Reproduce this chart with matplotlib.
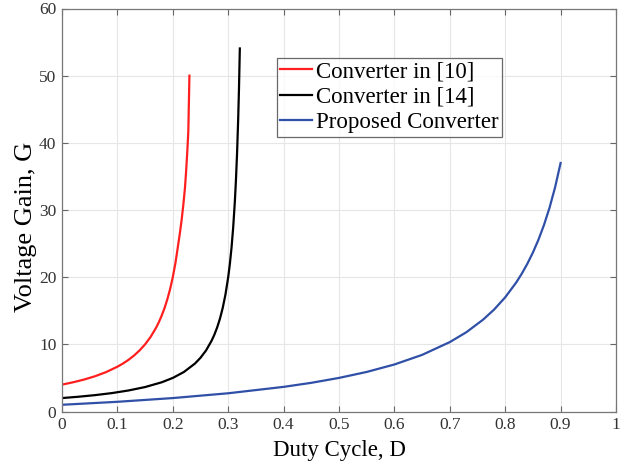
import matplotlib
matplotlib.use("Agg")
import matplotlib.pyplot as plt

# Data
d_ref10 = [0, 0.02, 0.04, 0.06, 0.08, 0.10, 0.11, 0.12, 0.13, 0.14, 0.15, 0.16, 0.17,
           0.175, 0.18, 0.185, 0.19, 0.195, 0.20, 0.205, 0.21, 0.213, 0.216, 0.219,
           0.222, 0.224, 0.226, 0.228, 0.23]
g_ref10 = [4.0, 4.35, 4.76, 5.26, 5.88, 6.67, 7.14, 7.69, 8.33, 9.09, 10.0, 11.11, 12.5,
           13.33, 14.29, 15.38, 16.67, 18.18, 20.0, 22.22, 25.0, 26.67, 28.57, 30.77,
           33.33, 35.71, 38.46, 41.67, 50.0]

d_ref14 = [0, 0.03, 0.06, 0.09, 0.12, 0.15, 0.18, 0.20, 0.22, 0.24, 0.25, 0.26, 0.27,
           0.275, 0.28, 0.285, 0.29, 0.295, 0.30, 0.303, 0.306, 0.309, 0.312, 0.314,
           0.316, 0.318, 0.3195, 0.321]
g_ref14 = [2.0, 2.20, 2.44, 2.74, 3.13, 3.64, 4.35, 5.0, 5.88, 7.14, 8.0, 9.09, 10.53,
           11.43, 12.5, 13.79, 15.38, 17.39, 20.0, 21.98, 24.39, 27.40, 31.25, 34.48,
           38.46, 43.48, 48.19, 54.05]

d_prop = [0, 0.1, 0.2, 0.3, 0.4, 0.45, 0.5, 0.55, 0.6, 0.65, 0.7, 0.73, 0.76, 0.78,
          0.8, 0.82, 0.83, 0.84, 0.85, 0.86, 0.87, 0.88, 0.89, 0.9]
g_prop = [1.0, 1.444, 2.0, 2.714, 3.667, 4.27, 5.0, 5.889, 7.0, 8.429, 10.333, 11.81,
          13.67, 15.18, 17.0, 19.22, 20.53, 22.0, 23.67, 25.57, 27.77, 30.33, 33.36, 37.0]

labels = ["Converter in [10]", "Converter in [14]", "Proposed Converter"]
x_ticks = [0, 0.1, 0.2, 0.3, 0.4, 0.5, 0.6, 0.7, 0.8, 0.9, 1]
x_ticklabels = ["0", "0.1", "0.2", "0.3", "0.4", "0.5", "0.6", "0.7", "0.8", "0.9", "1"]
y_ticks = [0, 10, 20, 30, 40, 50, 60]

plt.rcParams['font.family'] = ['Liberation Serif', 'DejaVu Serif']

fig = plt.figure(figsize=(6.31, 4.66), dpi=100)
ax = fig.add_axes([62/631, 1 - 411.5/466, 554/631, 403/466])

ax.plot(d_ref10, g_ref10, color='#ff1f1f', lw=1.6, label=labels[0])
ax.plot(d_ref14, g_ref14, color='black', lw=1.6, label=labels[1])
ax.plot(d_prop, g_prop, color='#3050a8', lw=1.6, label=labels[2])

ax.set_xlim(0, 1)
ax.set_ylim(0, 60)
ax.set_xticks(x_ticks)
ax.set_xticklabels(x_ticklabels)
ax.set_yticks(y_ticks)
ax.grid(True, color='#e6e6e6', lw=0.8)
ax.set_axisbelow(True)
ax.tick_params(direction='in', top=True, right=True, labelsize=12.5,
               color='#666666', length=4, width=0.8, labelcolor='#333333', pad=4)
for s in ax.spines.values():
    s.set_color('#777777')
    s.set_linewidth(0.9)

ax.set_xlabel("Duty Cycle, D", fontsize=16.5, labelpad=5)
ax.set_ylabel("Voltage Gain, G", fontsize=19)
ax.yaxis.set_label_coords(-0.045, 0.457)

leg = ax.legend(loc='upper left', bbox_to_anchor=(0.388, 0.878), fontsize=16.5,
                frameon=True, fancybox=False, edgecolor='#444444',
                handlelength=1.4, handletextpad=0.15, borderpad=0.15,
                labelspacing=0.2, borderaxespad=0)
leg.get_frame().set_linewidth(0.9)

fig.savefig("out.png", dpi=100)
